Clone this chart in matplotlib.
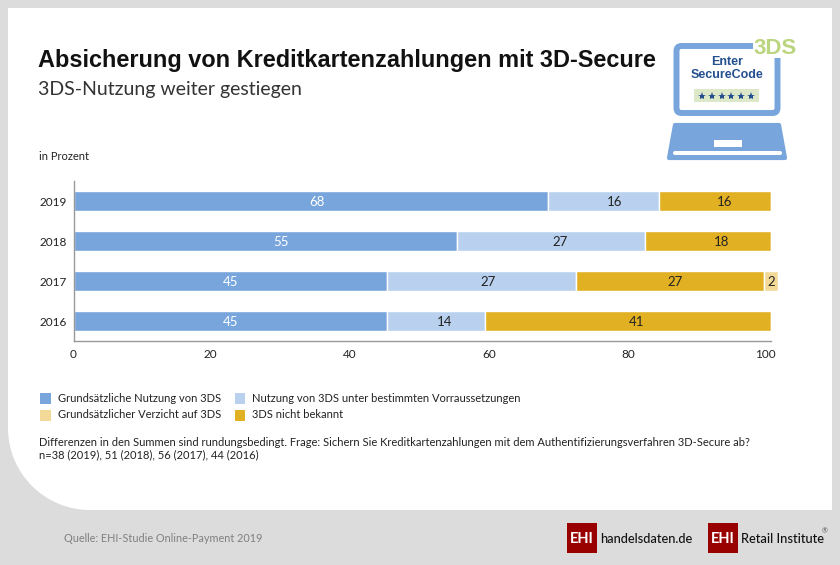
import matplotlib
matplotlib.use('Agg')
import matplotlib.pyplot as plt
from matplotlib.patches import PathPatch, Polygon, Rectangle, FancyBboxPatch
from matplotlib.path import Path
from matplotlib.transforms import ScaledTranslation

plt.rcParams['font.family'] = ['Lato', 'DejaVu Sans']

W, H = 840, 565

years = ['2016', '2017', '2018', '2019']
nutzung = [45, 45, 55, 68]
bestimmt = [14, 27, 27, 16]
unbekannt = [41, 27, 18, 16]
verzicht = [0, 2, 0, 0]
x_ticks = [0, 20, 40, 60, 80, 100]

# The value labels are not centred in the original, shift in pixels
shift_nutzung = [0.6, 0.6, 15.7, 6.4]
shift_bestimmt = [8.8, 6.5, 8.7, 11.4]
shift_unbekannt = [9, 5.1, 13.8, 9.8]
shift_verzicht = [0, 3.5, 0, 0]
shift_ticks = [0, -3, -3, -3, -3, -6]

BLUE = '#78a6dc'
LIGHT = '#b9d1ee'
GOLD = '#e2b023'
PALE = '#f2d997'
GREY = '#dcdcdc'
RED = '#990000'
DARK = '#222222'
NAVY = '#24508f'

series = [
    ('Grundsätzliche Nutzung von 3DS', nutzung, BLUE, 'white', shift_nutzung),
    ('Nutzung von 3DS unter bestimmten Vorraussetzungen', bestimmt, LIGHT, DARK, shift_bestimmt),
    ('3DS nicht bekannt', unbekannt, GOLD, DARK, shift_unbekannt),
    ('Grundsätzlicher Verzicht auf 3DS', verzicht, PALE, DARK, shift_verzicht),
]
legend_pos = {0: (40, 398), 1: (234.5, 398), 3: (40, 415), 2: (234.5, 415)}

fig = plt.figure(figsize=(W / 100, H / 100), dpi=100, facecolor=GREY)

# Background layer in pixel coordinates
bg = fig.add_axes([0, 0, 1, 1])
bg.set_xlim(0, W)
bg.set_ylim(H, 0)
bg.axis('off')

# White panel with the large rounded lower left corner
r = 82
k = 0.5523 * r
verts = [(8, 8), (832, 8), (832, 510), (8 + r, 510),
         (8 + r - k, 510), (8, 510 - r + k), (8, 510 - r), (8, 8)]
codes = [Path.MOVETO, Path.LINETO, Path.LINETO, Path.LINETO,
         Path.CURVE4, Path.CURVE4, Path.CURVE4, Path.CLOSEPOLY]
bg.add_patch(PathPatch(Path(verts, codes), fc='white', ec='none'))

bg.text(38, 60, 'Absicherung von Kreditkartenzahlungen mit 3D-Secure', fontsize=16.9,
        fontweight='bold', color='#111111', va='center', family=['Liberation Sans'])
bg.text(38, 90, '3DS-Nutzung weiter gestiegen', fontsize=14, color='#333333', va='center')
bg.text(39, 157, 'in Prozent', fontsize=8, color=DARK, va='center')

# Laptop icon
bg.add_patch(FancyBboxPatch((676.5, 46), 101, 67, boxstyle='round,pad=0,rounding_size=5',
                            fc='white', ec=BLUE, lw=4.3))
bg.add_patch(Rectangle((753, 36), 46, 22, fc='white', ec='none'))
bg.text(775.5, 49, '3DS', fontsize=16, fontweight='bold', color='#bcd57f', ha='center',
        va='center', family=['Liberation Sans'])
bg.text(727, 62, 'Enter', fontsize=9, fontweight='bold', color=NAVY, ha='center',
        va='center', family=['Liberation Sans'])
bg.text(727, 75.5, 'SecureCode', fontsize=9, fontweight='bold', color=NAVY, ha='center',
        va='center', family=['Liberation Sans'])
bg.add_patch(Rectangle((694, 89), 65, 13, fc='#dde8c8', ec='none'))
bg.plot([702, 712, 721.5, 731, 741, 750.5], [96] * 6, ls='none', marker='*', ms=6,
        mfc=NAVY, mec=NAVY, mew=0)
bg.add_patch(Polygon([(675, 125), (779, 125), (785, 158), (669, 158)], closed=True,
                     fc=BLUE, ec=BLUE, lw=3, joinstyle='round'))
bg.add_patch(Rectangle((714, 140), 28, 7, fc='white', ec='none'))
bg.add_patch(FancyBboxPatch((673, 151), 109, 4, boxstyle='round,pad=0,rounding_size=2',
                            fc='white', ec='none'))

# Legend
for i, (label, _, color, _, _) in enumerate(series):
    lx, ly = legend_pos[i]
    bg.add_patch(Rectangle((lx, ly - 5), 10.5, 10.5, fc=color, ec='none'))
    bg.text(lx + 18, ly, label, fontsize=8, color=DARK, va='center')

# Notes
bg.text(39, 442, 'Differenzen in den Summen sind rundungsbedingt. Frage: Sichern Sie Kreditkartenzahlungen '
        'mit dem Authentifizierungsverfahren 3D-Secure ab?', fontsize=8, color=DARK, va='center')
bg.text(39, 455, 'n=38 (2019), 51 (2018), 56 (2017), 44 (2016)', fontsize=8, color=DARK, va='center')

# Footer
bg.text(64, 539, 'Quelle: EHI-Studie Online-Payment 2019', fontsize=7.8, color='#808080', va='center')
bg.add_patch(Rectangle((567, 523), 30, 30, fc=RED, ec='none'))
bg.text(582, 539, 'EHI', fontsize=10.5, fontweight='bold', color='white', ha='center', va='center')
bg.text(600, 539, 'handelsdaten.de', fontsize=9.2, fontweight='medium', color='#111111', va='center')
bg.add_patch(Rectangle((708, 523), 30, 30, fc=RED, ec='none'))
bg.text(723, 539, 'EHI', fontsize=10.5, fontweight='bold', color='white', ha='center', va='center')
bg.text(741, 539, 'Retail Institute', fontsize=9.3, fontweight='medium', color='#111111', va='center')
bg.text(825, 531, '®', fontsize=5, color='#555555', ha='center', va='center')

# Chart
x0, x1, y0, y1 = 73.5, 771, 181, 341
ax = fig.add_axes([x0 / W, 1 - y1 / H, (x1 - x0) / W, (y1 - y0) / H])
ax.patch.set_alpha(0)
left = [0, 0, 0, 0]
for label, vals, color, txt, shifts in series:
    bars = ax.barh(years, vals, left=left, height=0.5, color=color, edgecolor='white',
                   linewidth=1, clip_on=False)
    texts = ax.bar_label(bars, labels=[str(v) if v else '' for v in vals], label_type='center',
                         color=txt, fontsize=9.5)
    for t, dx in zip(texts, shifts):
        t.xyann = (dx * 0.72, t.xyann[1] - 0.8)
    left = [a + b for a, b in zip(left, vals)]

ax.set_xlim(0, 100)
ax.set_ylim(-0.5, 3.5)
ax.set_xticks(x_ticks)
ax.tick_params(axis='both', length=0, labelsize=8.5, labelcolor=DARK)
ax.tick_params(axis='x', pad=6)
ax.tick_params(axis='y', pad=5)
for tick, dx in zip(ax.get_xticklabels(), shift_ticks):
    tick.set_transform(tick.get_transform() + ScaledTranslation(dx / 100, 0, fig.dpi_scale_trans))
for side in ['top', 'right']:
    ax.spines[side].set_visible(False)
for side in ['left', 'bottom']:
    ax.spines[side].set_color('#999999')
    ax.spines[side].set_linewidth(1)

fig.savefig('out.png', dpi=100, facecolor=GREY)
